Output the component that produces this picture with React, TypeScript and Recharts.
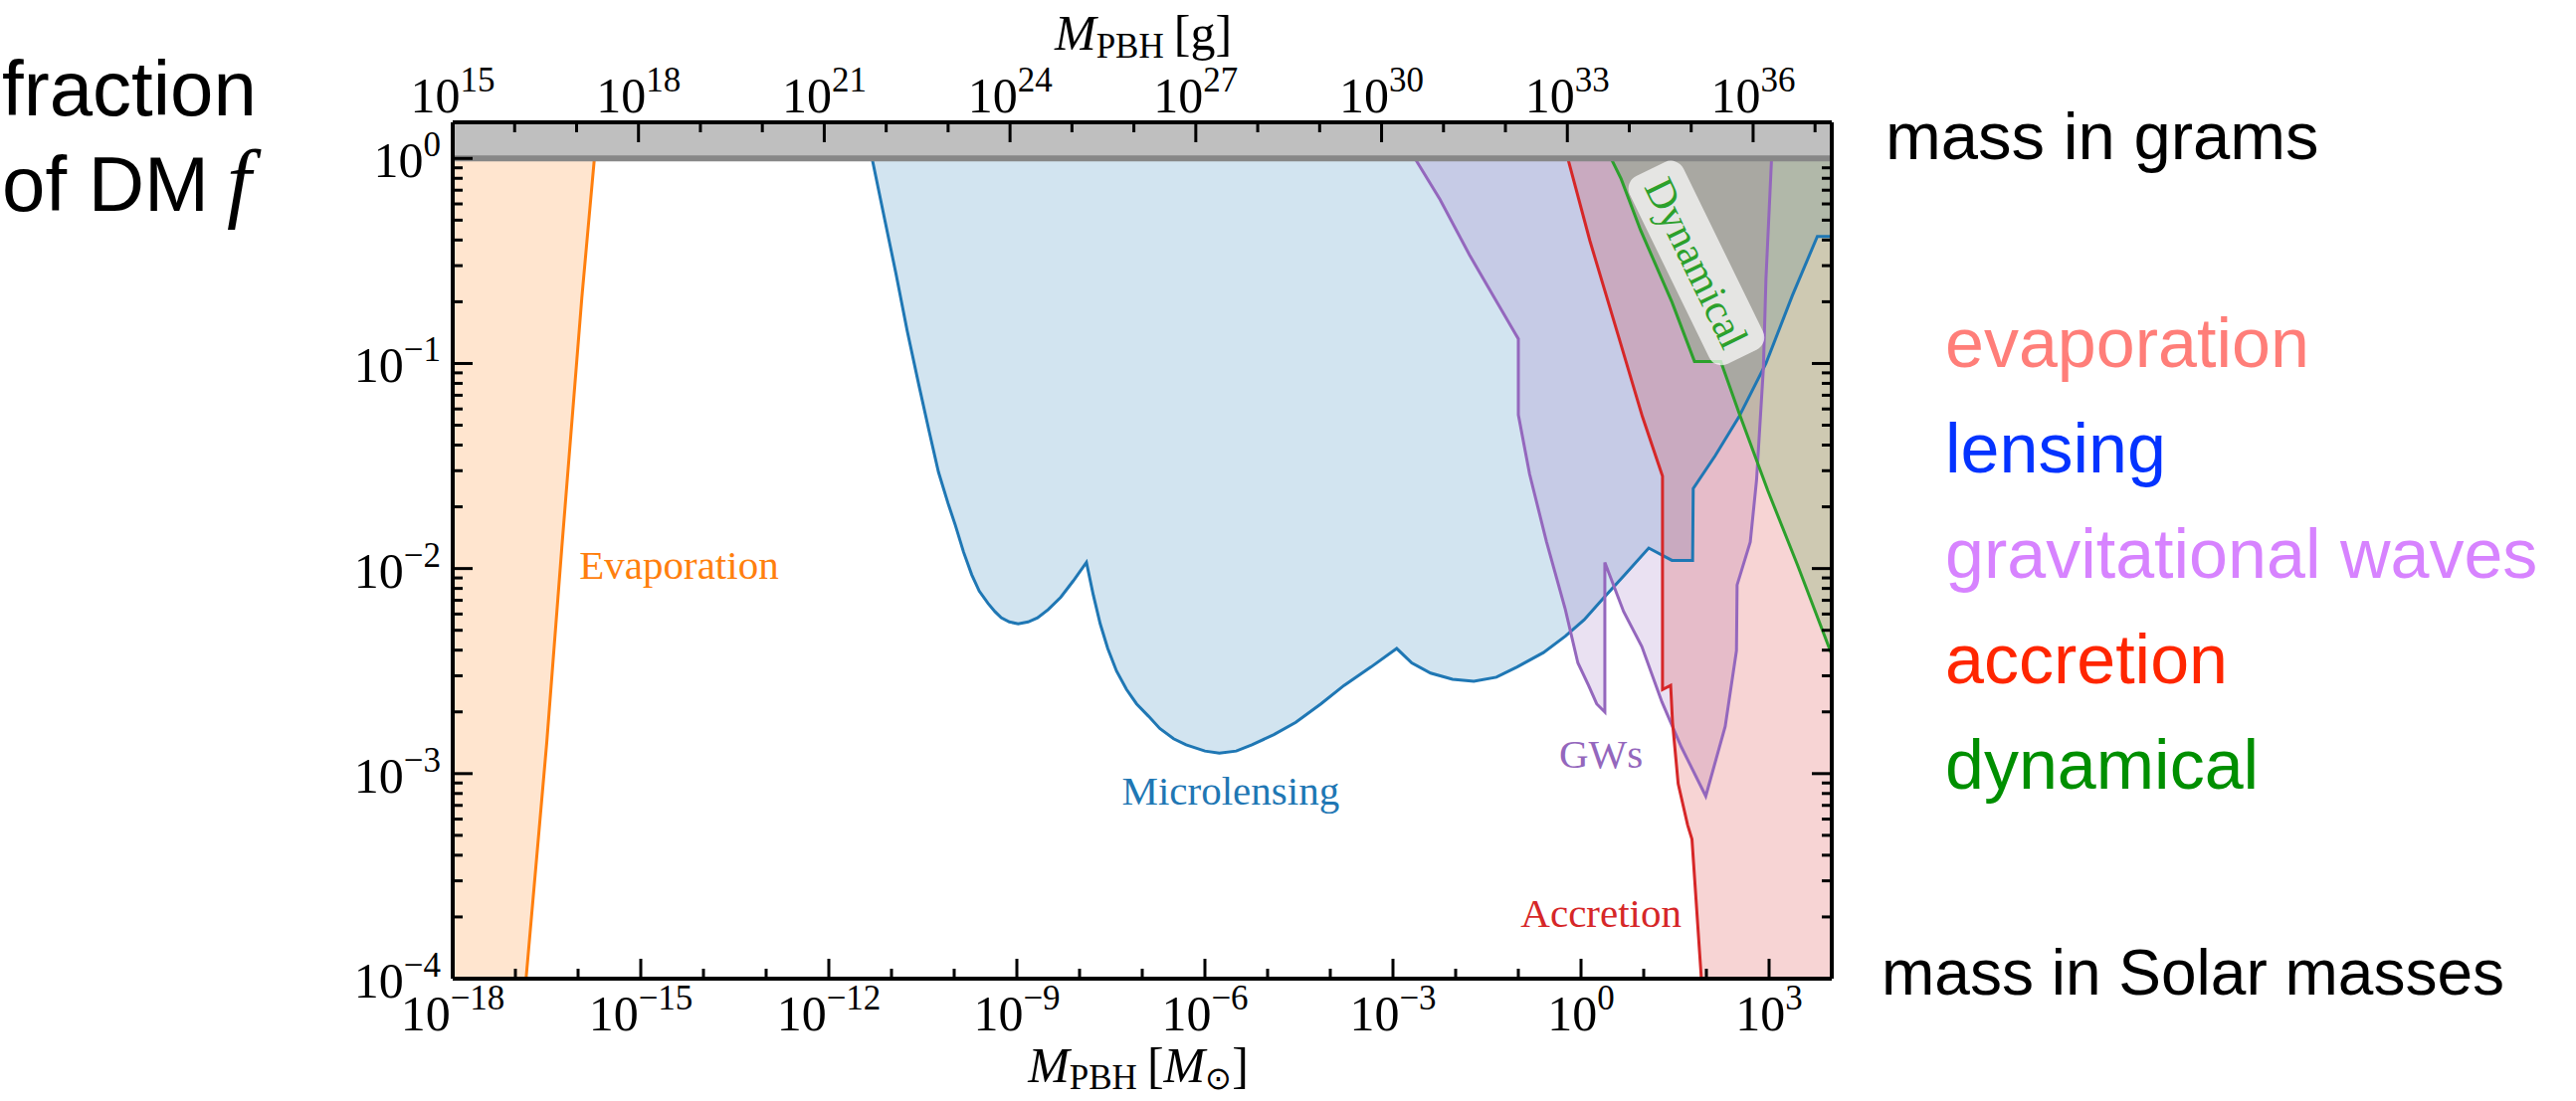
import React from 'react'
import {
  ComposedChart,
  Area,
  Line,
  XAxis,
  YAxis,
  ReferenceArea,
  ReferenceLine,
  ReferenceDot,
} from 'recharts'

const WIDTH = 2589
const HEIGHT = 1107

const SERIF = '"Liberation Serif", "Times New Roman", serif'
const SANS = '"Liberation Sans", Arial, Helvetica, sans-serif'

// x = log10(M_PBH / M_sun), y = log10(f)
const evaporationX = [-18, -17.1, -16.83, -16.5, -16.26, -15.94, -15.74]
const evaporationY = [-5, -5, -4.0, -2.85, -1.9, -0.68, 0]

const lensingX = [
  -11.31, -11.1, -10.93, -10.75, -10.56, -10.4, -10.25, -10.1, -9.98, -9.85, -9.72, -9.6,
  -9.46, -9.35, -9.25, -9.12, -8.98, -8.82, -8.67, -8.5, -8.3, -8.1, -7.89, -7.78, -7.67,
  -7.55, -7.41, -7.25, -7.09, -6.9, -6.72, -6.5, -6.3, -6.0, -5.77, -5.5, -5.25, -4.9,
  -4.55, -4.15, -3.78, -3.35, -2.94, -2.7, -2.4, -2.05, -1.71, -1.35, -1.02, -0.6, -0.25,
  0.05, 0.37, 0.7, 1.08, 1.45, 1.78, 1.79, 2.14, 2.52, 2.95, 3.37, 3.77, 4.0,
]
const lensingY = [
  0, -0.31, -0.56, -0.84, -1.11, -1.33, -1.53, -1.68, -1.79, -1.92, -2.03, -2.11,
  -2.17, -2.21, -2.24, -2.26, -2.27, -2.26, -2.24, -2.2, -2.14, -2.06, -1.97, -2.13, -2.27,
  -2.39, -2.5, -2.59, -2.66, -2.72, -2.78, -2.83, -2.86, -2.89, -2.9, -2.89, -2.86, -2.81,
  -2.75, -2.66, -2.57, -2.48, -2.39, -2.46, -2.51, -2.54, -2.55, -2.53, -2.48, -2.41, -2.33,
  -2.25, -2.14, -2.03, -1.9, -1.96, -1.96, -1.61, -1.45, -1.26, -1.0, -0.67, -0.38, -0.38,
]

const gwX = [
  -2.65, -2.25, -1.78, -1.4, -1.0, -1.0, -0.82, -0.55, -0.25, -0.05, 0.12, 0.25, 0.38,
  0.38, 0.68, 0.97, 1.29, 1.6, 1.99, 2.3, 2.48, 2.49, 2.7, 2.8, 2.91, 2.95, 3.04,
]
const gwY = [
  0, -0.2, -0.47, -0.67, -0.88, -1.25, -1.54, -1.87, -2.2, -2.46, -2.57, -2.66, -2.7,
  -1.97, -2.21, -2.38, -2.65, -2.87, -3.11, -2.77, -2.4, -2.08, -1.87, -1.57, -1.02, -0.59, 0,
]

const accretionX = [-0.21, 0.14, 0.6, 0.98, 1.3, 1.3, 1.43, 1.46, 1.55, 1.7, 1.77, 1.92, 2.0, 4.0]
const accretionY = [0, -0.4, -0.87, -1.26, -1.55, -2.59, -2.57, -2.75, -3.05, -3.25, -3.32, -4.0, -4.6, -4.6]

const dynamicalX = [0.48, 0.64, 0.95, 1.45, 1.81, 2.23, 2.52, 2.98, 3.45, 4.0]
const dynamicalY = [0, -0.1, -0.35, -0.7, -0.99, -0.99, -1.24, -1.62, -1.98, -2.42]

const massTicks = [-18, -17, -16, -15, -14, -13, -12, -11, -10, -9, -8, -7, -6, -5, -4, -3, -2, -1, 0, 1, 2, 3, 4]
const gramTicks = [15, 16, 17, 18, 19, 20, 21, 22, 23, 24, 25, 26, 27, 28, 29, 30, 31, 32, 33, 34, 35, 36, 37]
const fDecades = [-4, -3, -2, -1, 0]
const fMinor = [2, 3, 4, 5, 6, 7, 8, 9]
const fTicks = fDecades.flatMap((n) => (n === 0 ? [0] : [n, ...fMinor.map((k) => n + Math.log10(k))]))

const rows = (xs: number[], ys: number[]) => xs.map((x, i) => ({ x, y: ys[i] }))

const SERIES = [
  { key: 'evap', data: rows(evaporationX, evaporationY), color: '#ff7f0e' },
  { key: 'lens', data: rows(lensingX, lensingY), color: '#1f77b4' },
  { key: 'gw', data: rows(gwX, gwY), color: '#9467bd' },
  { key: 'accr', data: rows(accretionX, accretionY), color: '#d62728' },
  { key: 'dyn', data: rows(dynamicalX, dynamicalY), color: '#2ca02c' },
]

const LABELS = [
  { text: 'Evaporation', x: -15.98, y: -2.05, color: '#ff7f0e', anchor: 'start' },
  { text: 'Microlensing', x: -5.59, y: -3.15, color: '#1f77b4', anchor: 'middle' },
  { text: 'GWs', x: 0.32, y: -2.97, color: '#9467bd', anchor: 'middle' },
  { text: 'Accretion', x: 0.32, y: -3.75, color: '#d62728', anchor: 'middle' },
]

const LEGEND = [
  { text: 'evaporation', color: '#ff7e79' },
  { text: 'lensing', color: '#0433ff' },
  { text: 'gravitational waves', color: '#d783ff' },
  { text: 'accretion', color: '#ff2600' },
  { text: 'dynamical', color: '#008f00' },
]

const expText = (n: number) => (n < 0 ? '\u2212' + Math.abs(n) : String(n))

function Pow({ x, y, n, anchor }: { x: number; y: number; n: number; anchor: string }) {
  return (
    <text x={x} y={y} textAnchor={anchor as any} fontFamily={SERIF} fontSize={50} fill="#000">
      10
      <tspan dy={-21} fontSize={35}>
        {expText(n)}
      </tspan>
    </text>
  )
}

const BottomTick = (p: any) => {
  const v = p.payload.value
  const major = v % 3 === 0
  return (
    <g>
      <line x1={p.x} x2={p.x} y1={p.y} y2={p.y - (major ? 20 : 10)} stroke="#000" strokeWidth={3} />
      {major && <Pow x={p.x} y={p.y + 52} n={v} anchor="middle" />}
    </g>
  )
}

const TopTick = (p: any) => {
  const v = p.payload.value
  const major = (v - 15) % 3 === 0
  return (
    <g>
      <line x1={p.x} x2={p.x} y1={p.y} y2={p.y + (major ? 20 : 10)} stroke="#000" strokeWidth={3} />
      {major && <Pow x={p.x} y={p.y - 10} n={v} anchor="middle" />}
    </g>
  )
}

const LeftTick = (p: any) => {
  const v = p.payload.value
  const major = Math.abs(v - Math.round(v)) < 1e-9
  return (
    <g>
      <line x1={p.x} x2={p.x + (major ? 20 : 10)} y1={p.y} y2={p.y} stroke="#000" strokeWidth={3} />
      {major && <Pow x={p.x - 12} y={p.y + 19} n={Math.round(v)} anchor="end" />}
    </g>
  )
}

const RightTick = (p: any) => {
  const v = p.payload.value
  const major = Math.abs(v - Math.round(v)) < 1e-9
  if (Math.round(v) === 0 && major) return <g />
  return <line x1={p.x} x2={p.x - (major ? 20 : 10)} y1={p.y} y2={p.y} stroke="#000" strokeWidth={3} />
}

const DynamicalLabel = ({ cx, cy }: any) => (
  <g transform={`translate(${cx},${cy}) rotate(64)`}>
    <rect x={-105} y={-30} width={210} height={60} rx={14} fill="#ffffff" fillOpacity={0.7} />
    <text x={0} y={0} textAnchor="middle" dominantBaseline="central" fontFamily={SERIF} fontSize={42} fill="#2ca02c">
      Dynamical
    </text>
  </g>
)

export default function App() {
  const axisLine = { stroke: '#000', strokeWidth: 4 }
  return (
    <div style={{ position: 'relative', width: WIDTH, height: HEIGHT, background: '#fff' }}>
      <style>{'body{margin:0}'}</style>
      <ComposedChart width={WIDTH} height={HEIGHT} margin={{ top: 23, right: 728, bottom: 23, left: 255 }}>
        <XAxis
          xAxisId="b"
          type="number"
          dataKey="x"
          domain={[-18, 4]}
          allowDataOverflow
          ticks={massTicks}
          interval={0}
          height={100}
          tickSize={0}
          tickMargin={0}
          tickLine={false}
          axisLine={axisLine}
          tick={BottomTick}
        />
        <XAxis
          xAxisId="t"
          orientation="top"
          type="number"
          dataKey="gx"
          domain={[15, 37.27]}
          allowDataOverflow
          ticks={gramTicks}
          interval={0}
          height={100}
          tickSize={0}
          tickMargin={0}
          tickLine={false}
          axisLine={axisLine}
          tick={TopTick}
        />
        <YAxis
          yAxisId="l"
          type="number"
          domain={[-4, 0.176]}
          allowDataOverflow
          ticks={fTicks}
          interval={0}
          width={200}
          tickSize={0}
          tickMargin={0}
          tickLine={false}
          axisLine={axisLine}
          tick={LeftTick}
        />
        <YAxis
          yAxisId="r"
          orientation="right"
          type="number"
          domain={[-4, 0.176]}
          allowDataOverflow
          ticks={fTicks}
          interval={0}
          width={20}
          tickSize={0}
          tickMargin={0}
          tickLine={false}
          axisLine={axisLine}
          tick={RightTick}
        />

        {SERIES.map((s) => (
          <Area
            key={`a-${s.key}`}
            xAxisId="b"
            yAxisId="l"
            data={s.data}
            dataKey={(d: any) => [d.y, 0]}
            type="linear"
            fill={s.color}
            fillOpacity={0.2}
            stroke="none"
            isAnimationActive={false}
          />
        ))}
        {SERIES.map((s) => (
          <Line
            key={`l-${s.key}`}
            xAxisId="b"
            yAxisId="l"
            data={s.data}
            dataKey="y"
            type="linear"
            stroke={s.color}
            strokeWidth={3}
            dot={false}
            activeDot={false}
            isAnimationActive={false}
          />
        ))}
        <Line
          xAxisId="t"
          yAxisId="l"
          data={[{ gx: 15, y: -9 }, { gx: 37.27, y: -9 }]}
          dataKey="y"
          stroke="none"
          dot={false}
          isAnimationActive={false}
        />
        <Line
          xAxisId="b"
          yAxisId="r"
          data={[{ x: -18, y: -9 }, { x: 4, y: -9 }]}
          dataKey="y"
          stroke="none"
          dot={false}
          isAnimationActive={false}
        />

        <ReferenceArea xAxisId="b" yAxisId="l" y1={0} y2={0.176} fill="#bfbfbf" fillOpacity={1} stroke="none" />
        <ReferenceLine xAxisId="b" yAxisId="l" y={0} stroke="#878787" strokeWidth={6} />

        {LABELS.map((l) => (
          <ReferenceDot
            key={l.text}
            xAxisId="b"
            yAxisId="l"
            x={l.x}
            y={l.y}
            r={0}
            shape={(p: any) => (
              <text x={p.cx} y={p.cy} textAnchor={l.anchor as any} fontFamily={SERIF} fontSize={41} fill={l.color}>
                {l.text}
              </text>
            )}
          />
        ))}
        <ReferenceDot xAxisId="b" yAxisId="l" x={1.84} y={-0.51} r={0} shape={(p: any) => <DynamicalLabel cx={p.cx} cy={p.cy} />} />
      </ComposedChart>

      <svg width={WIDTH} height={HEIGHT} style={{ position: 'absolute', left: 0, top: 0, pointerEvents: 'none' }}>
        <text x={2} y={116} fontFamily={SANS} fontSize={78} fill="#000">
          fraction
        </text>
        <text x={2} y={212} fontFamily={SANS} fontSize={78} fill="#000">
          of DM
        </text>
        <text x={228} y={212} fontFamily={SERIF} fontStyle="italic" fontSize={88} fill="#000">
          f
        </text>

        <text x={1149} y={50} textAnchor="middle" fontFamily={SERIF} fontSize={50} fill="#000">
          <tspan fontStyle="italic">M</tspan>
          <tspan fontSize={35} dy={8}>
            PBH
          </tspan>
          <tspan dy={-8}>{'\u2009[g]'}</tspan>
        </text>
        <text x={1144} y={1088} textAnchor="middle" fontFamily={SERIF} fontSize={50} fill="#000">
          <tspan fontStyle="italic">M</tspan>
          <tspan fontSize={35} dy={7}>
            PBH
          </tspan>
          <tspan dy={-7}>{'\u2009['}</tspan>
          <tspan fontStyle="italic">M</tspan>
          <tspan fontSize={32} dy={7}>
            {'\u2299'}
          </tspan>
          <tspan dy={-7}>]</tspan>
        </text>

        <text x={1895} y={160} fontFamily={SANS} fontSize={67} fill="#000">
          mass in grams
        </text>
        {LEGEND.map((l, i) => (
          <text key={l.text} x={1955} y={369 + i * 106} fontFamily={SANS} fontSize={70} fill={l.color}>
            {l.text}
          </text>
        ))}
        <text x={1891} y={1000} fontFamily={SANS} fontSize={64} fill="#000">
          mass in Solar masses
        </text>
      </svg>
    </div>
  )
}
